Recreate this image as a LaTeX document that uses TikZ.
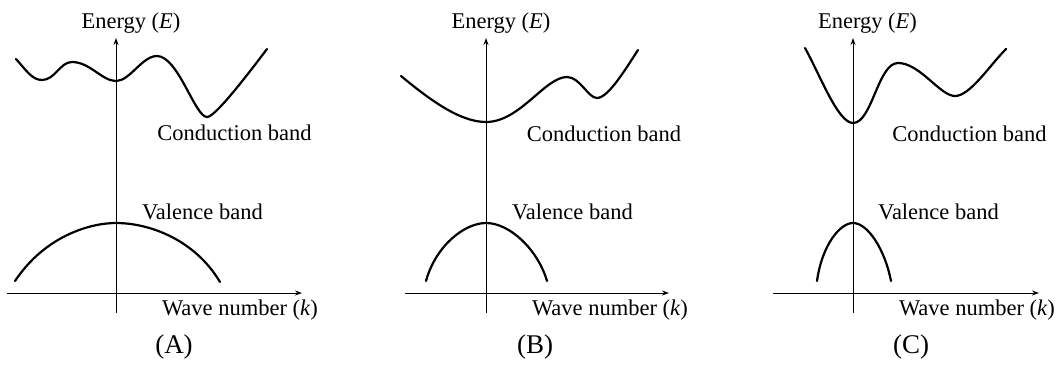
\documentclass[tikz,border=0pt]{standalone}
\usepackage{fontspec}
\setmainfont{Liberation Serif}
\newfontfamily\tnr{Liberation Serif}
\usetikzlibrary{arrows.meta}
\begin{document}
\begin{tikzpicture}[x=1pt,y=-1pt,
  axis/.style={line width=1pt,-{Stealth[length=7pt,width=5pt]}},
  band/.style={line width=2.2pt,line cap=round,line join=round},
  lbl/.style={inner sep=0pt,font=\tnr\fontsize{22.5}{27}\selectfont},
  paneltitle/.style={inner sep=0pt,font=\tnr\fontsize{27}{32}\selectfont}]
\useasboundingbox (0,0) rectangle (1059,365);
% ---------- Panel A ----------
\coordinate (aY0) at (116,313);
\coordinate (aY1) at (116,38);
\coordinate (aX0) at (7,293);
\coordinate (aX1) at (302,293);
\draw[axis] (aY0) -- (aY1);
\draw[axis] (aX0) -- (aX1);
\draw[band] (16,59) .. controls (26,70) and (32,80) .. (42,80)
  .. controls (55,80) and (60,62) .. (72,62)
  .. controls (90,62) and (102,81) .. (116,81)
  .. controls (130,81) and (142,56) .. (157,56)
  .. controls (178,56) and (195,117) .. (207,117)
  .. controls (215,117) and (245,78) .. (267,49);
\draw[band] (15,281) .. controls (45,236) and (90,223) .. (116,223)
  .. controls (150,223) and (195,240) .. (220,282);
\node[lbl] (aE) at (131,23) {Energy (\textit{E})};
\node[lbl] (aC) at (234.5,133) {Conduction band};
\node[lbl] (aV) at (202.5,212) {Valence band};
\node[lbl] (aK) at (240,310) {Wave number (\textit{k})};
\node[paneltitle] (aT) at (174,347) {(A)};
% ---------- Panel B ----------
\coordinate (bY0) at (486,313);
\coordinate (bY1) at (486,38);
\coordinate (bX0) at (405,293);
\coordinate (bX1) at (669,293);
\draw[axis] (bY0) -- (bY1);
\draw[axis] (bX0) -- (bX1);
\draw[band] (401,76) .. controls (430,100) and (460,122) .. (486,122)
  .. controls (520,122) and (545,77) .. (567,77)
  .. controls (580,77) and (588,98) .. (597,98)
  .. controls (608,98) and (625,70) .. (638,50);
\draw[band] (426,281) .. controls (436,245) and (465,223) .. (486,223)
  .. controls (510,223) and (538,250) .. (547,281);
\node[lbl] (bE) at (501,23) {Energy (\textit{E})};
\node[lbl] (bC) at (604,134) {Conduction band};
\node[lbl] (bV) at (572.5,212) {Valence band};
\node[lbl] (bK) at (610,310) {Wave number (\textit{k})};
\node[paneltitle] (bT) at (535,347) {(B)};
% ---------- Panel C ----------
\coordinate (cY0) at (853,313);
\coordinate (cY1) at (853,38);
\coordinate (cX0) at (773,293);
\coordinate (cX1) at (1039,293);
\draw[axis] (cY0) -- (cY1);
\draw[axis] (cX0) -- (cX1);
\draw[band] (805,48) .. controls (820,75) and (838,123) .. (853,123)
  .. controls (872,123) and (878,63) .. (898,63)
  .. controls (920,63) and (940,96) .. (955,96)
  .. controls (970,96) and (990,65) .. (1006,49);
\draw[band] (817,281) .. controls (822,245) and (840,223) .. (853,223)
  .. controls (868,223) and (885,250) .. (891,281);
\node[lbl] (cE) at (867.5,23) {Energy (\textit{E})};
\node[lbl] (cC) at (969.5,134) {Conduction band};
\node[lbl] (cV) at (938.5,212) {Valence band};
\node[lbl] (cK) at (977,310) {Wave number (\textit{k})};
\node[paneltitle] (cT) at (911,347) {(C)};
\end{tikzpicture}
\end{document}
